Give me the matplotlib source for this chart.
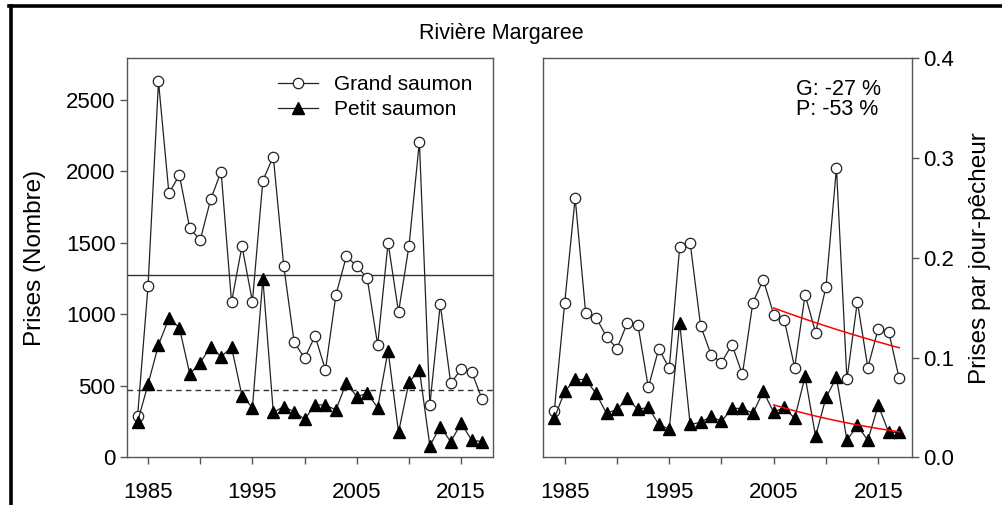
import numpy as np
import matplotlib
matplotlib.use("Agg")
import matplotlib.pyplot as plt
from matplotlib.lines import Line2D

plt.rcParams['font.family'] = ['Liberation Sans', 'DejaVu Sans']

# data
years = list(range(1984, 2018))

grand_nb = [290, 1200, 2630, 1847, 1975, 1602, 1520, 1805, 1999, 1085,
            1479, 1089, 1936, 2104, 1339, 805, 693, 849, 611, 1136,
            1405, 1339, 1252, 786, 1502, 1015, 1479, 2209, 366, 1071,
            518, 616, 599, 408]
petit_nb = [249, 511, 786, 973, 907, 583, 662, 774, 704, 770,
            431, 347, 1248, 315, 354, 319, 266, 366, 366, 331,
            522, 424, 448, 347, 746, 175, 525, 611, 81, 214,
            109, 238, 121, 109]

grand_cpue = [0.046, 0.155, 0.260, 0.145, 0.140, 0.121, 0.109, 0.135, 0.133, 0.070,
              0.109, 0.089, 0.211, 0.215, 0.132, 0.103, 0.095, 0.113, 0.083, 0.155,
              0.178, 0.143, 0.138, 0.090, 0.163, 0.125, 0.171, 0.290, 0.078, 0.156,
              0.090, 0.129, 0.126, 0.079]
petit_cpue = [0.039, 0.066, 0.078, 0.078, 0.064, 0.044, 0.048, 0.059, 0.048, 0.050,
              0.033, 0.028, 0.135, 0.033, 0.035, 0.041, 0.036, 0.049, 0.049, 0.044,
              0.066, 0.045, 0.050, 0.039, 0.081, 0.021, 0.060, 0.080, 0.017, 0.032,
              0.017, 0.052, 0.025, 0.025]

# reference levels on the count panel
grand_ref = 1277
petit_ref = 471

# trend period on the cpue panel
trend_start = 2005
trend_labels = "G: -27 %\nP: -53 %"

line_col = "#222222"
spine_col = "#555555"

fig = plt.figure(figsize=(10.02, 5.05), dpi=100)
ax1 = fig.add_axes([0.1264, 0.0945, 0.3656, 0.7901])
ax2 = fig.add_axes([0.5422, 0.0945, 0.3677, 0.7901])

# frame around the figure (cut at right/bottom like the source)
fig.add_artist(Line2D([0.009, 1.0], [0.989, 0.989], color="black", lw=2.6))
fig.add_artist(Line2D([0.0105, 0.0105], [0.0, 0.989], color="black", lw=2.6))

fig.text(0.5, 0.934, "Rivière Margaree", ha="center", va="center", fontsize=15.5)

yrs = np.array(years)

# left panel: counts
ax1.plot(years, grand_nb, color=line_col, lw=0.9, marker="o", ms=7.5,
         mfc="white", mec=line_col, mew=0.9, label="Grand saumon", zorder=3)
ax1.plot(years, petit_nb, color=line_col, lw=0.9, marker="^", ms=8,
         mfc="black", mec="black", label="Petit saumon", zorder=3)
ax1.axhline(grand_ref, color="#333333", lw=1.0)
ax1.axhline(petit_ref, color="#333333", lw=1.0, ls=(0, (4, 3)))
ax1.set_xlim(1982.95, 2018.05)
ax1.set_ylim(0, 2792)
ax1.set_yticks([0, 500, 1000, 1500, 2000, 2500])
ax1.set_ylabel("Prises (Nombre)", fontsize=17.5, labelpad=14)
ax1.legend(loc="upper left", bbox_to_anchor=(0.413, 0.958), frameon=False,
           fontsize=15, handlelength=1.9, handletextpad=0.8,
           labelspacing=0.3, borderpad=0, borderaxespad=0)

# right panel: catch per angler-day
ax2.plot(years, grand_cpue, color=line_col, lw=0.9, marker="o", ms=7.5,
         mfc="white", mec=line_col, mew=0.9, zorder=3)
ax2.plot(years, petit_cpue, color=line_col, lw=0.9, marker="^", ms=8,
         mfc="black", mec="black", zorder=3)

# log-linear trends since trend_start
sel = yrs >= trend_start
tx = np.linspace(trend_start, years[-1], 50)
for series in (grand_cpue, petit_cpue):
    b, a = np.polyfit(yrs[sel], np.log(np.array(series)[sel]), 1)
    ax2.plot(tx, np.exp(a + b * tx), color="red", lw=1.1, zorder=4)

ax2.text(0.685, 0.948, trend_labels, transform=ax2.transAxes, ha="left", va="top",
         fontsize=15.5, linespacing=0.95)
ax2.set_xlim(1982.95, 2018.2)
ax2.set_ylim(0, 0.4)
ax2.set_yticks([0.0, 0.1, 0.2, 0.3, 0.4])
ax2.yaxis.tick_right()
ax2.yaxis.set_label_position("right")
ax2.set_ylabel("Prises par jour-pêcheur", fontsize=17.5, labelpad=11)

for ax in (ax1, ax2):
    ax.set_xticks(range(1985, 2016, 5))
    ax.set_xticklabels([str(y) if (y - 1985) % 10 == 0 else "" for y in range(1985, 2016, 5)])
    for s in ax.spines.values():
        s.set_color(spine_col)
        s.set_linewidth(1.0)
    ax.tick_params(axis="both", direction="out", length=5, width=1.0,
                   color=spine_col, labelsize=16)
    ax.tick_params(axis="x", pad=13)
    ax.tick_params(axis="y", pad=3)

fig.savefig("out.png", dpi=100)
